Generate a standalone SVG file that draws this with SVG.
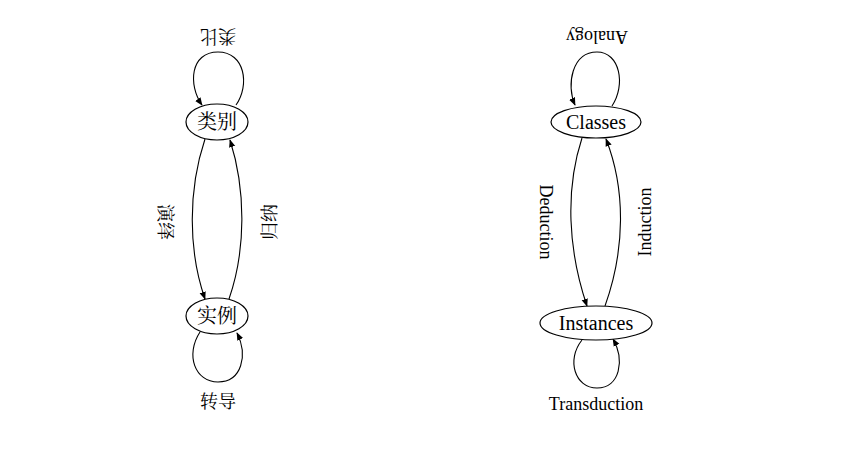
<svg xmlns="http://www.w3.org/2000/svg" width="860" height="453" viewBox="0 0 860 453">
<style>
.n{fill:#fff;stroke:#000;stroke-width:1.2}
.t{font-family:"Liberation Serif","Noto Serif CJK SC","Noto Sans CJK SC",serif;font-size:20px;text-anchor:middle;dominant-baseline:central}
.l{font-size:18px}
.e{fill:none;stroke:#000;stroke-width:1.1;marker-end:url(#a)}
</style>
<defs><marker id="a" viewBox="0 0 10 10" refX="9" refY="5" markerWidth="8" markerHeight="8" orient="auto" markerUnits="userSpaceOnUse"><path d="M0,1 L10,5 L0,9 z"/></marker></defs>
<rect width="860" height="453" fill="#fff"/>
<g id="connectors">
<path class="e" d="M236,105 C250,85 245,52 218,52 C190,52 188,85 202,105"/>
<path class="e" d="M205,139 C188,190 188,250 205,299"/>
<path class="e" d="M229,299 C246,250 246,190 230,140"/>
<path class="e" d="M200,332 C185,355 195,382 218,382 C242,382 248,355 237,333"/>
<path class="e" d="M612,106 C626,85 620,52 597,52 C572,52 566,85 575,105"/>
<path class="e" d="M582,138 C565,190 568,250 587,306"/>
<path class="e" d="M605,306 C625,250 626,190 606,139"/>
<path class="e" d="M582,340 C566,360 575,388 597,388 C620,388 625,360 613,339"/>
<text class="t l" transform="translate(218,36) rotate(180)">类比</text>
<text class="t l" transform="translate(165,222) rotate(90)">演绎</text>
<text class="t l" transform="translate(270,222) rotate(-90)">归纳</text>
<text class="t l" x="218" y="402">转导</text>
<text class="t l" transform="translate(597,37) rotate(180)">Analogy</text>
<text class="t l" transform="translate(546,222) rotate(90)">Deduction</text>
<text class="t l" transform="translate(645,222) rotate(-90)">Induction</text>
<text class="t l" x="596" y="404">Transduction</text>
</g>
<g id="classes-cn"><ellipse class="n" cx="217" cy="122" rx="31" ry="18"/><text class="t" x="217" y="122">类别</text></g>
<g id="instances-cn"><ellipse class="n" cx="217" cy="316" rx="31" ry="18"/><text class="t" x="217" y="316">实例</text></g>
<g id="classes"><ellipse class="n" cx="596" cy="122" rx="45" ry="16"/><text class="t" x="596" y="122">Classes</text></g>
<g id="instances"><ellipse class="n" cx="596" cy="323" rx="56" ry="17"/><text class="t" x="596" y="323">Instances</text></g>
</svg>
